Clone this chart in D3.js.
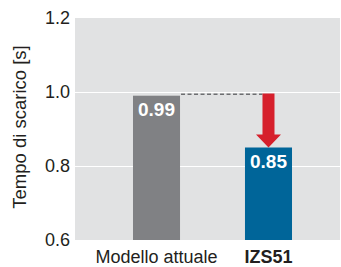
<!DOCTYPE html>
<html>
<head>
<meta charset="utf-8">
<script src="https://cdn.jsdelivr.net/npm/d3@7"></script>
<style>
  body { margin: 0; background: #fff; }
  text { font-family: "Liberation Sans", Arial, sans-serif; }
</style>
</head>
<body>
<svg id="chart" width="341" height="267"></svg>
<script>
const categories = ['Modello attuale', 'IZS51']
const values = [0.99, 0.85]
const valueLabels = ['0.99', '0.85']
const yTicks = [0.6, 0.8, 1.0, 1.2]
const barColors = ['#808184', '#006599']

const width = 341
const height = 267
const plot = { left: 75, right: 340, top: 18, bottom: 240 }

const svg = d3.select('#chart')

const y = d3.scaleLinear().domain([0.6, 1.2]).range([plot.bottom, plot.top])
const x = d3.scaleBand()
  .domain(categories)
  .range([77, 348])
  .paddingInner(0.58)
  .paddingOuter(0.5)

// plot background
svg.append('rect')
  .attr('x', plot.left)
  .attr('y', plot.top)
  .attr('width', plot.right - plot.left)
  .attr('height', plot.bottom - plot.top)
  .attr('fill', '#e1e2e3')

// grid lines
svg.selectAll('line.grid')
  .data(yTicks.filter(d => d > 0.6 && d < 1.2))
  .enter().append('line')
  .attr('class', 'grid')
  .attr('x1', plot.left)
  .attr('x2', plot.right)
  .attr('y1', d => Math.round(y(d)) + 0.5)
  .attr('y2', d => Math.round(y(d)) + 0.5)
  .attr('stroke', '#fff')
  .attr('stroke-width', 1)

// y axis labels
const yAxis = d3.axisLeft(y).tickValues(yTicks).tickFormat(d3.format('.1f')).tickSize(0).tickPadding(5)
const gy = svg.append('g')
  .attr('transform', `translate(${plot.left},0)`)
  .call(yAxis)
gy.select('.domain').remove()
gy.selectAll('text')
  .attr('font-size', 18)
  .attr('fill', '#231f20')
  .style('font-family', '"Liberation Sans", Arial, sans-serif')

// y title
svg.append('text')
  .attr('transform', `translate(26,127) rotate(-90)`)
  .attr('text-anchor', 'middle')
  .attr('font-size', 18.5)
  .attr('fill', '#231f20')
  .text('Tempo di scarico [s]')

// bars
svg.selectAll('rect.bar')
  .data(values)
  .enter().append('rect')
  .attr('class', 'bar')
  .attr('x', (d, i) => x(categories[i]))
  .attr('width', x.bandwidth())
  .attr('y', d => y(d))
  .attr('height', d => plot.bottom - y(d))
  .attr('fill', (d, i) => barColors[i])

// value labels
svg.selectAll('text.val')
  .data(values)
  .enter().append('text')
  .attr('class', 'val')
  .attr('x', (d, i) => x(categories[i]) + x.bandwidth() / 2)
  .attr('y', d => y(d) + 20)
  .attr('text-anchor', 'middle')
  .attr('font-size', 19)
  .attr('font-weight', 'bold')
  .attr('fill', '#fff')
  .text((d, i) => valueLabels[i])

// dashed reference line
const xArrow = x(categories[1]) + x.bandwidth() / 2
const yFrom = y(values[0]) - 1.5
svg.append('line')
  .attr('x1', x(categories[0]) + x.bandwidth() + 1)
  .attr('x2', xArrow - 6)
  .attr('y1', yFrom)
  .attr('y2', yFrom)
  .attr('stroke', '#6d6e71')
  .attr('stroke-width', 1.5)
  .attr('stroke-dasharray', '4,2.5')

// red arrow
const yTo = y(values[1])
const headH = 13
svg.append('path')
  .attr('d', [
    `M${xArrow - 6},${yFrom - 0.7}`,
    `L${xArrow + 6},${yFrom - 0.7}`,
    `L${xArrow + 6},${yTo - headH}`,
    `L${xArrow + 12.5},${yTo - headH}`,
    `L${xArrow},${yTo}`,
    `L${xArrow - 12.5},${yTo - headH}`,
    `L${xArrow - 6},${yTo - headH}`,
    'Z'
  ].join(''))
  .attr('fill', '#d6202c')

// category labels
svg.selectAll('text.cat')
  .data(categories)
  .enter().append('text')
  .attr('class', 'cat')
  .attr('x', d => x(d) + x.bandwidth() / 2)
  .attr('y', 263)
  .attr('text-anchor', 'middle')
  .attr('font-size', 18)
  .attr('font-weight', (d, i) => i === 1 ? 'bold' : 'normal')
  .attr('fill', '#231f20')
  .text(d => d)
</script>
</body>
</html>
